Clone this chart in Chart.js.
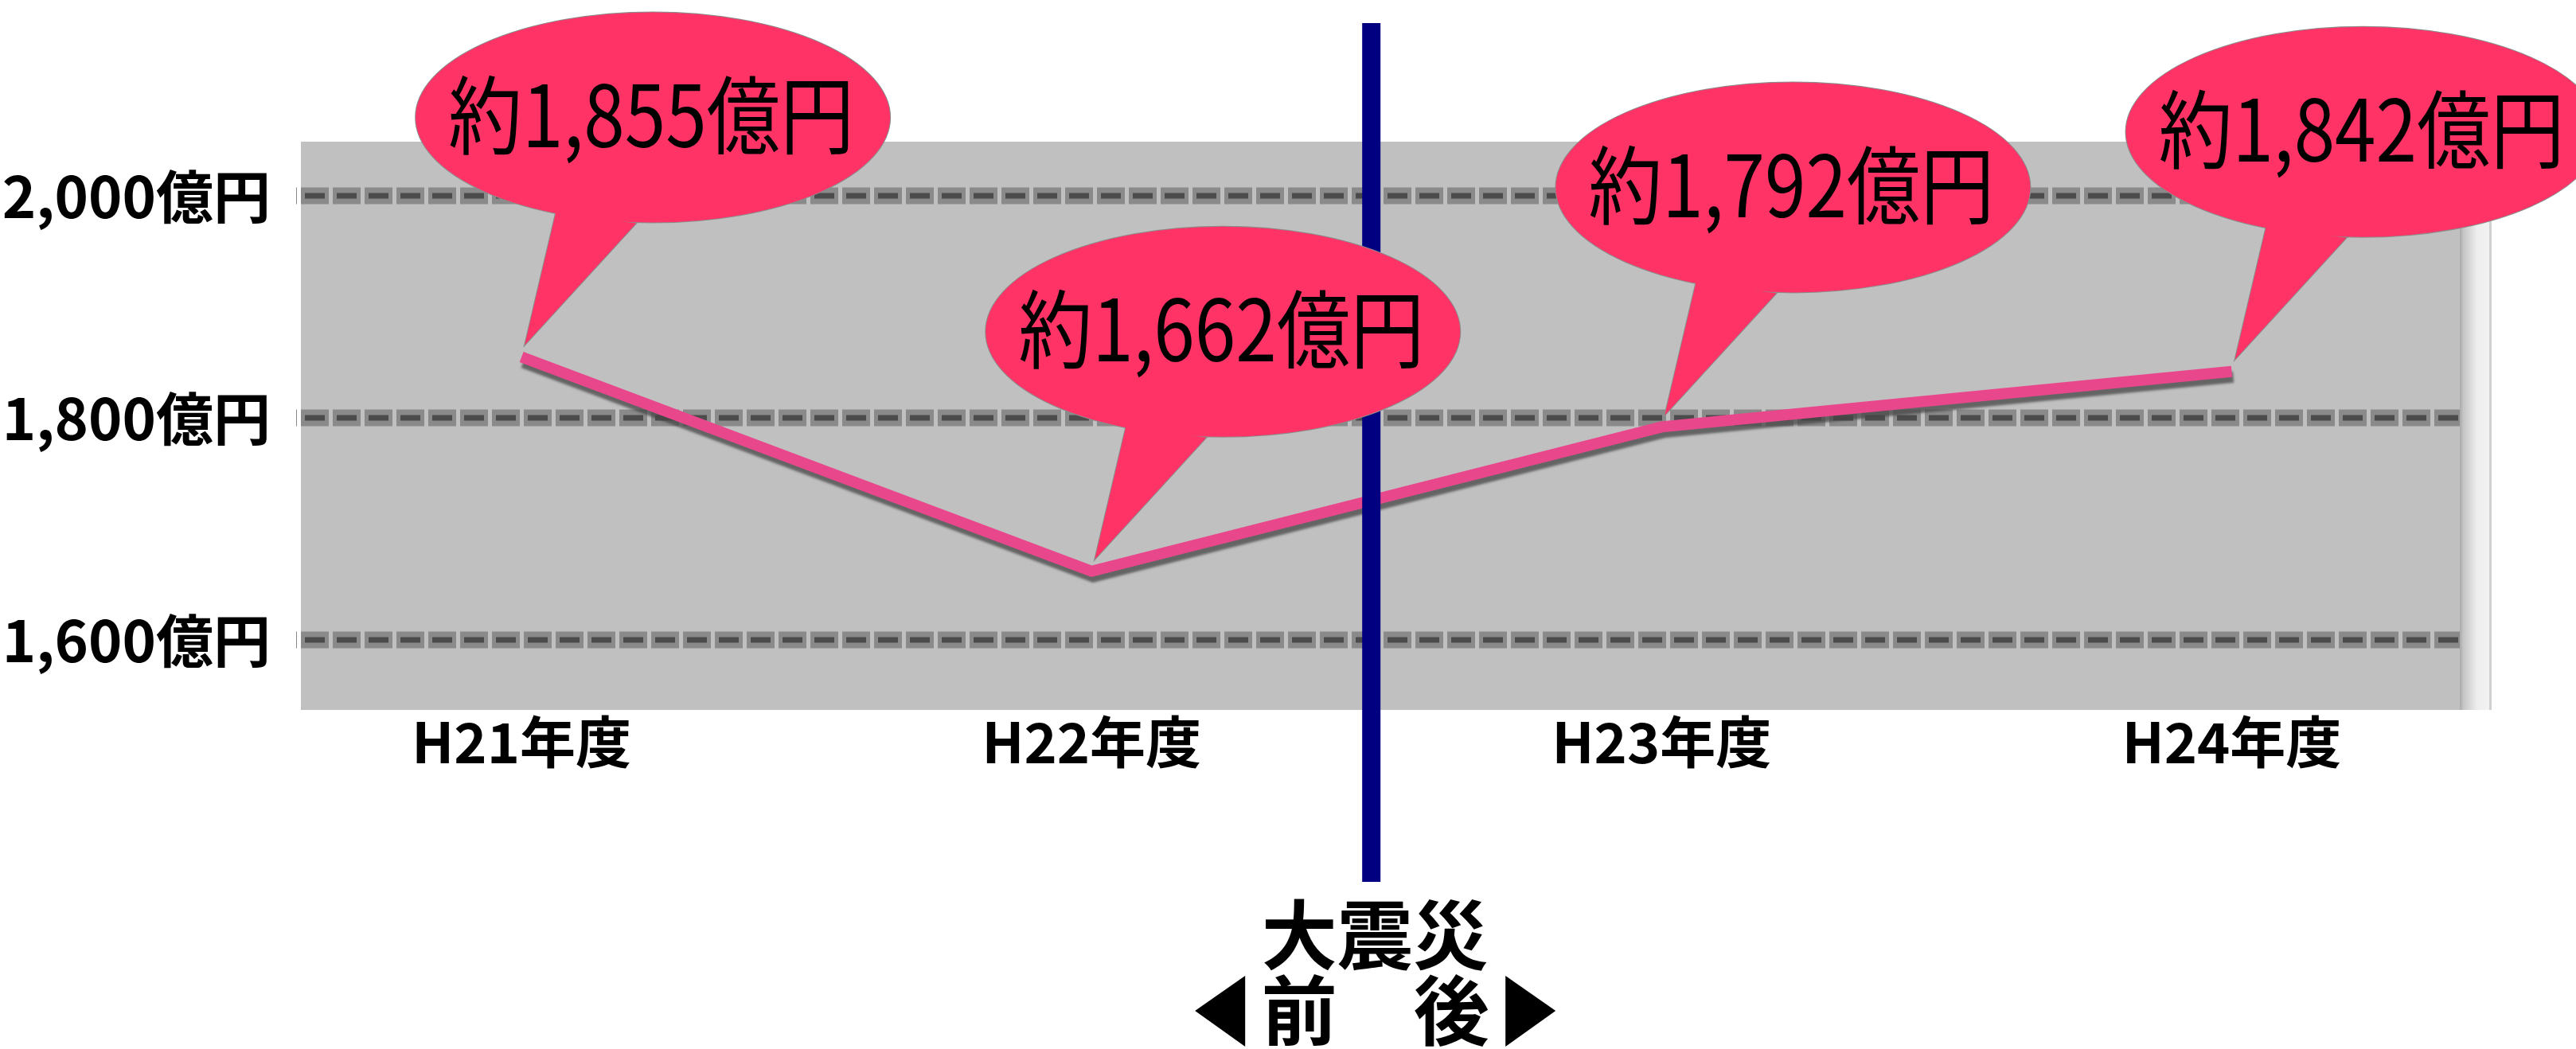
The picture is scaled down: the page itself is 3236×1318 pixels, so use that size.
<!DOCTYPE html>
<html>
<head>
<meta charset="utf-8">
<script src="https://cdn.jsdelivr.net/npm/chart.js@4.4.1/dist/chart.umd.min.js"></script>
<style>
  html, body { margin: 0; padding: 0; background: #fff; }
  canvas { display: block; }
</style>
</head>
<body>
<canvas id="chart" width="3236" height="1318"></canvas>
<script>
// === data ===
const years = ['H21年度', 'H22年度', 'H23年度', 'H24年度'];
const values = [1855, 1662, 1792, 1842];
const bubbleLabels = ['約1,855億円', '約1,662億円', '約1,792億円', '約1,842億円'];
const yTicks = [1600, 1800, 2000];
const disasterAt = 1.49;           // between H22 and H23
const disasterTitle = '大震災';
const beforeLabel = '前';
const afterLabel = '後';

const GOTHIC = '"Noto Sans CJK JP", "Liberation Sans", sans-serif';
const BUBBLE_FONT = '"Noto Sans CJK JP", sans-serif';
const PINK = '#E8478B';
const BUBBLE = '#FF3366';
const NAVY = '#000080';

// gray plot box, dashed two-tone grid, right "wall"
const backdrop = {
    id: 'backdrop',
    beforeDraw(chart) {
        const { ctx, chartArea: a } = chart;
        ctx.save();
        ctx.fillStyle = '#C0C0C0';
        ctx.fillRect(a.left, a.top, a.right - a.left, a.bottom - a.top);
        const g = ctx.createLinearGradient(a.right, 0, a.right + 40, 0);
        g.addColorStop(0, '#a9a9a9');
        g.addColorStop(0.12, '#c6c6c6');
        g.addColorStop(0.55, '#eeeeee');
        g.addColorStop(0.92, '#f2f2f2');
        g.addColorStop(0.93, '#d0d0d0');
        g.addColorStop(1, '#d0d0d0');
        ctx.fillStyle = g;
        ctx.fillRect(a.right, a.top, 40, a.bottom - a.top);
        ctx.restore();
    },
    beforeDatasetsDraw(chart) {
        const { ctx, chartArea: a, scales: { y } } = chart;
        ctx.save();
        yTicks.forEach(v => {
            const py = Math.round(y.getPixelForValue(v));
            ctx.beginPath();
            ctx.moveTo(a.left - 6, py);
            ctx.lineTo(a.right, py);
            ctx.setLineDash([35, 5]);
            ctx.lineDashOffset = -6;
            ctx.lineWidth = 21;
            ctx.strokeStyle = '#8a8a8a';
            ctx.stroke();
            ctx.setLineDash([25, 15]);
            ctx.lineDashOffset = -11;
            ctx.lineWidth = 7;
            ctx.strokeStyle = '#4b4b4b';
            ctx.stroke();
        });
        ctx.restore();
    },
    beforeDatasetDraw(chart) {
        const ctx = chart.ctx;
        ctx.save();
        ctx.shadowColor = 'rgba(70,70,70,0.75)';
        ctx.shadowOffsetX = 2;
        ctx.shadowOffsetY = 7;
        ctx.shadowBlur = 3;
    },
    afterDatasetDraw(chart) {
        chart.ctx.restore();
    }
};

// navy divider, speech bubbles and the before/after caption
const callouts = {
    id: 'callouts',
    afterDatasetsDraw(chart) {
        const { ctx, scales: { x, y } } = chart;
        const nx = x.getPixelForValue(disasterAt);
        ctx.save();
        ctx.fillStyle = NAVY;
        ctx.fillRect(nx - 11, 29, 23, 1079);

        values.forEach((v, i) => {
            const px = x.getPixelForValue(i), py = y.getPixelForValue(v);
            const cx = px + 165, cy = py - 301;
            const tail = () => {
                ctx.beginPath();
                ctx.moveTo(cx - 122, cy + 120);
                ctx.lineTo(cx - 161, cy + 286);
                ctx.lineTo(cx - 21, cy + 133);
                ctx.closePath();
            };
            const oval = () => {
                ctx.beginPath();
                ctx.ellipse(cx, cy, 298, 132, 0, 0, Math.PI * 2);
            };
            ctx.strokeStyle = '#8c8c8c';
            ctx.lineWidth = 2;
            oval(); ctx.stroke();
            tail(); ctx.stroke();
            ctx.fillStyle = BUBBLE;
            oval(); ctx.fill();
            tail(); ctx.fill();
            // narrow the text a little, like the condensed face in the original
            ctx.save();
            ctx.translate(cx - 2, cy - 3);
            ctx.scale(0.9, 1.04);
            ctx.fillStyle = '#000';
            ctx.font = '103px ' + BUBBLE_FONT;
            ctx.textAlign = 'center';
            ctx.textBaseline = 'middle';
            ctx.fillText(bubbleLabels[i], 0, 0);
            ctx.restore();
        });

        const tx = nx + 5;
        ctx.fillStyle = '#000';
        ctx.font = 'bold 95px ' + GOTHIC;
        ctx.textAlign = 'center';
        ctx.textBaseline = 'middle';
        ctx.fillText(disasterTitle, tx, 1175);
        ctx.fillText(beforeLabel, tx - 95, 1270);
        ctx.fillText(afterLabel, tx + 96, 1270);
        ctx.beginPath();
        ctx.moveTo(tx - 226, 1270); ctx.lineTo(tx - 163, 1226); ctx.lineTo(tx - 163, 1315); ctx.closePath();
        ctx.fill();
        ctx.beginPath();
        ctx.moveTo(tx + 227, 1270); ctx.lineTo(tx + 164, 1226); ctx.lineTo(tx + 164, 1315); ctx.closePath();
        ctx.fill();
        ctx.restore();
    }
};

new Chart(document.getElementById('chart').getContext('2d'), {
    type: 'line',
    data: {
        datasets: [{
            data: values.map((v, i) => ({ x: i, y: v })),
            borderColor: PINK,
            borderWidth: 14,
            borderCapStyle: 'butt',
            borderJoinStyle: 'miter',
            pointRadius: 0,
            tension: 0,
            fill: false
        }]
    },
    options: {
        responsive: false, animation: false, devicePixelRatio: 1,
        layout: { padding: { top: 178, right: 146, left: 0, bottom: 0 } },
        plugins: { legend: { display: false }, tooltip: { enabled: false } },
        scales: {
            x: {
                type: 'linear', min: -0.387, max: 3.4,
                afterBuildTicks: s => { s.ticks = years.map((_, i) => ({ value: i })); },
                afterFit: s => { s.height = 426; },
                grid: { display: false, drawTicks: false }, border: { display: false },
                ticks: { callback: v => years[v], color: '#000', padding: -2, autoSkip: false, maxRotation: 0,
                         font: { family: GOTHIC, size: 70, weight: 'bold' } }
            },
            y: {
                min: 1537, max: 2049,
                afterBuildTicks: s => { s.ticks = yTicks.map(v => ({ value: v })); },
                afterFit: s => { s.width = 378; },
                grid: { display: false, drawTicks: false }, border: { display: false },
                ticks: { callback: v => v.toLocaleString('en-US') + '億円', color: '#000', padding: 38,
                         font: { family: GOTHIC, size: 72, weight: 'bold' } }
            }
        }
    },
    plugins: [backdrop, callouts]
});
</script>
</body>
</html>
